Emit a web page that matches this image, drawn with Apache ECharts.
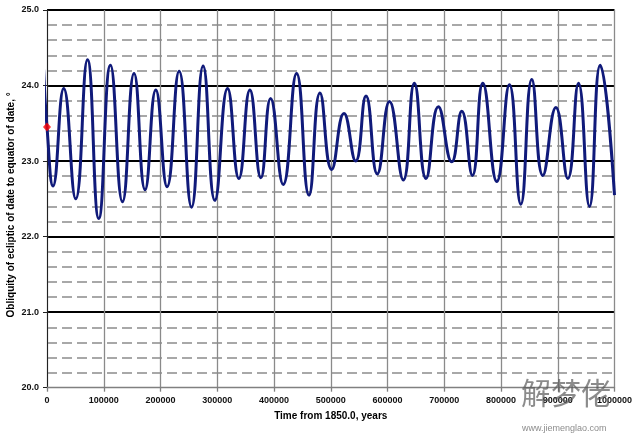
<!DOCTYPE html>
<html>
<head>
<meta charset="utf-8">
<script src="https://cdn.jsdelivr.net/npm/echarts@6/dist/echarts.min.js"></script>
<style>
html,body{margin:0;padding:0;background:#fff;}
#chart{width:640px;height:433px;}
</style>
</head>
<body>
<div id="chart"></div>
<script>
// Time from 1850.0 (years) at each turning point of the curve
const years = [-6000, 0, 10600, 29500, 50600, 71300, 91200, 111800, 133000, 153400, 172800,
  191700, 211600, 232800, 254700, 275100, 295800, 318200, 338100, 357500, 376900,
  394000, 416200, 439800, 461600, 481000, 501600, 523300, 543900, 562100, 582000,
  603500, 627900, 647300, 667900, 689600, 713200, 730900, 749600, 767900, 792600,
  814800, 834900, 854300, 873700, 896700, 917800, 936500, 955900, 974800, 1000000];
// Obliquity (degrees)
const obliquity = [24.21, 23.45, 22.67, 23.96, 22.50, 24.34, 22.24, 24.27, 22.46, 24.16, 22.62,
  23.94, 22.66, 24.19, 22.39, 24.26, 22.48, 23.96, 22.77, 23.94, 22.78,
  23.83, 22.69, 24.16, 22.55, 23.90, 22.89, 23.63, 23.00, 23.86, 22.83,
  23.79, 22.75, 24.03, 22.77, 23.72, 22.99, 23.66, 22.81, 24.03, 22.73,
  24.01, 22.43, 24.08, 22.81, 23.71, 22.77, 24.03, 22.40, 24.27, 22.55];
// Present value at 1850.0
const presentYear = [0];
const presentObliquity = [23.45];
const xTicks = {min: 0, max: 1000000, step: 100000};
const yTicks = {min: 20, max: 25, step: 1};
const xTitle = 'Time from 1850.0, years';
const yTitle = 'Obliquity of ecliptic of date to equator of date, °';

const font = "'Liberation Sans', Arial, sans-serif";
const chart = echarts.init(document.getElementById('chart'), null, {renderer: 'canvas'});
chart.setOption({
  backgroundColor: '#ffffff',
  animation: false,
  grid: {left: 47, right: 25.5, top: 10, bottom: 45.3, containLabel: false, outerBoundsMode: 'none'},
  xAxis: {
    type: 'value', min: xTicks.min, max: xTicks.max, interval: xTicks.step,
    name: xTitle, nameLocation: 'middle', nameGap: 24, nameMoveOverlap: false,
    nameTextStyle: {fontFamily: font, fontWeight: 'bold', fontSize: 10, color: '#000'},
    axisLine: {show: true, onZero: false, lineStyle: {color: '#808080', width: 1.3}},
    axisTick: {show: true, inside: false, length: 4, lineStyle: {color: '#808080', width: 1.3}},
    axisLabel: {fontFamily: font, fontWeight: 'bold', fontSize: 9, color: '#111', margin: 8,
      formatter: v => String(v)},
    splitLine: {show: true, lineStyle: {color: '#8a8a8a', width: 1.3}}
  },
  yAxis: {
    type: 'value', min: yTicks.min, max: yTicks.max, interval: yTicks.step,
    name: yTitle, nameLocation: 'middle', nameGap: 31, nameRotate: 90, nameMoveOverlap: false,
    nameTextStyle: {fontFamily: font, fontWeight: 'bold', fontSize: 10, color: '#000', padding: [0, 0, 0, -12]},
    axisLine: {show: true, lineStyle: {color: '#222', width: 1}},
    axisTick: {show: true, inside: false, length: 4, lineStyle: {color: '#222', width: 1}},
    axisLabel: {fontFamily: font, fontWeight: 'bold', fontSize: 9, color: '#111', margin: 8,
      formatter: v => v.toFixed(1)},
    splitLine: {show: true, showMinLine: false, lineStyle: {color: '#000', width: 2}},
    minorTick: {show: false, splitNumber: 5},
    minorSplitLine: {show: true, lineStyle: {color: '#8c8c8c', width: 1.6, type: [10, 5]}}
  },
  series: [
    {
      type: 'line',
      data: years.map((x, i) => [x, obliquity[i]]),
      smooth: 0.5,
      clip: false,
      showSymbol: false,
      lineStyle: {color: '#101a7a', width: 3},
      z: 5
    },
    {
      type: 'scatter',
      data: presentYear.map((x, i) => [x, presentObliquity[i]]),
      symbol: 'diamond',
      symbolSize: [8, 9],
      clip: false,
      itemStyle: {color: '#ff0000'},
      z: 6
    }
  ],
  graphic: [
    {type: 'text', left: 521, top: 378, z: 100,
      style: {text: '解梦佬', font: "30px 'Noto Sans CJK SC'", fill: 'rgba(90,90,90,0.7)'}},
    {type: 'text', left: 522, top: 424, z: 100,
      style: {text: 'www.jiemenglao.com', font: "9px " + font, fill: 'rgba(110,110,110,0.8)'}}
  ]
});
</script>
</body>
</html>
